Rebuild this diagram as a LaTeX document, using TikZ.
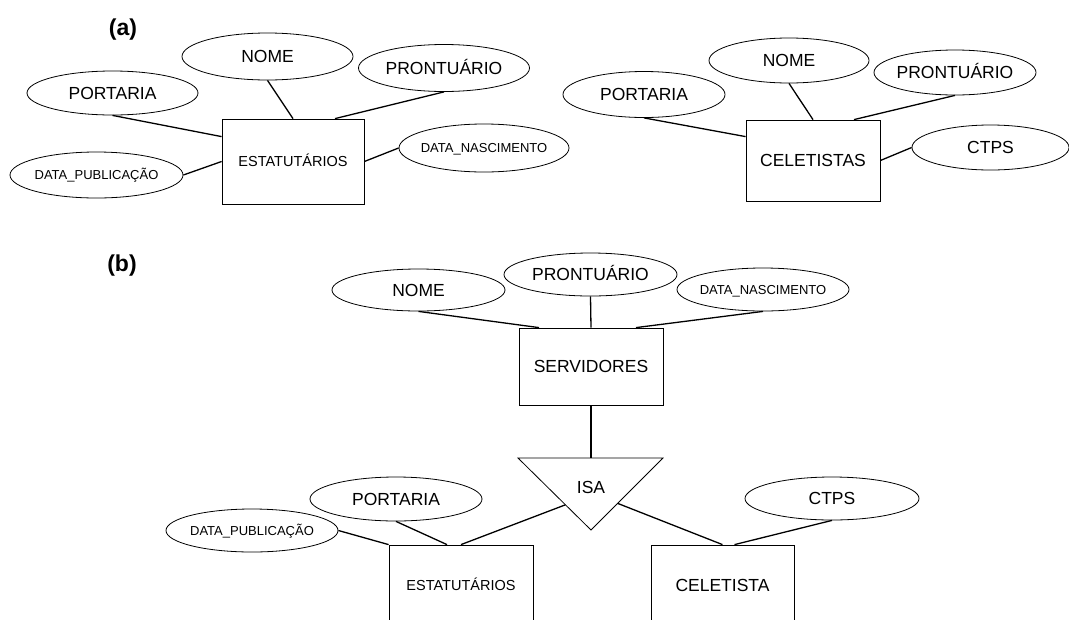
\documentclass[tikz,border=0pt]{standalone}
\usepackage{fontspec}
\setmainfont{Liberation Sans}
\usetikzlibrary{shapes.geometric,calc}
\begin{document}
\begin{tikzpicture}[x=1pt,y=-1pt,
  attr/.style={ellipse,draw,line width=0.8pt,inner sep=0pt},
  ent/.style={rectangle,draw,line width=0.8pt,inner sep=0pt},
  conn/.style={line width=1.3pt},
  big/.style={font=\fontsize{17.5}{20}\selectfont,text height=12.5pt,text depth=0pt},
  small/.style={font=\fontsize{13}{15}\selectfont,text height=9.3pt,text depth=0pt},
  mid/.style={font=\fontsize{14.5}{17}\selectfont,text height=10.4pt,text depth=0pt},
  tag/.style={font=\fontsize{23}{26}\selectfont\bfseries}]
\useasboundingbox (0,0) rectangle (1069,619);
\clip (0,0) rectangle (1069,619);

% ---------- (a) ----------
\node[tag] (ta) at (123,30) {(a)};

\node[attr,big,minimum width=171pt,minimum height=47pt] (anome) at (267.5,56.5) {\makebox[0pt]{NOME}};
\node[attr,big,minimum width=171pt,minimum height=47pt] (apront) at (444,68) {\makebox[0pt]{PRONTUÁRIO}};
\node[attr,big,minimum width=171pt,minimum height=44pt] (aport) at (112.5,93) {\makebox[0pt]{PORTARIA}};
\node[attr,small,minimum width=173pt,minimum height=46pt] (apub) at (96.5,175) {\makebox[0pt]{DATA\_PUBLICAÇÃO}};
\node[ent,mid,minimum width=142pt,minimum height=85pt] (aest) at (293,161.5) {ESTATUTÁRIOS};
\node[attr,small,minimum width=170pt,minimum height=48pt] (anasc) at (484,148) {\makebox[0pt]{DATA\_NASCIMENTO}};

\draw[conn] (aport.south) -- ([yshift=-18pt]aest.north west);
\draw[conn] (anome.south) -- (aest.north);
\draw[conn] (apront.south) -- ([xshift=42pt]aest.north);
\draw[conn] (apub.east) -- (aest.west);
\draw[conn] (aest.east) -- (anasc.west);

\node[attr,big,minimum width=160pt,minimum height=45pt] (bnome) at (789,60.5) {\makebox[0pt]{NOME}};
\node[attr,big,minimum width=162pt,minimum height=45pt] (bpront) at (955,72.5) {\makebox[0pt]{PRONTUÁRIO}};
\node[attr,big,minimum width=162pt,minimum height=46pt] (bport) at (644,94.5) {\makebox[0pt]{PORTARIA}};
\node[ent,big,minimum width=134pt,minimum height=81pt] (bcel) at (813,160.5) {CELETISTAS};
\node[attr,big,minimum width=157pt,minimum height=45pt] (bctps) at (990.5,147.5) {\makebox[0pt]{CTPS}};

\draw[conn] (bport.south) -- ([yshift=-17pt]bcel.north west);
\draw[conn] (bnome.south) -- (bcel.north);
\draw[conn] (bpront.south) -- ([xshift=41pt]bcel.north);
\draw[conn] (bcel.east) -- (bctps.west);

% ---------- (b) ----------
\node[tag] (tb) at (122,265.5) {(b)};

\node[attr,big,minimum width=173pt,minimum height=42pt] (cnome) at (418.5,290) {\makebox[0pt]{NOME}};
\node[attr,big,minimum width=173pt,minimum height=43pt] (cpront) at (590.5,274.5) {\makebox[0pt]{PRONTUÁRIO}};
\node[attr,small,minimum width=172pt,minimum height=43pt] (cnasc) at (763,289.5) {\makebox[0pt]{DATA\_NASCIMENTO}};
\node[ent,big,minimum width=144pt,minimum height=77pt] (cserv) at (591,366.5) {SERVIDORES};

\coordinate (isaL) at (518,458);
\coordinate (isaR) at (663,458);
\coordinate (isaB) at (591,530);
\coordinate (isaT) at (591,458);
\draw[line width=0.8pt,line join=miter] (isaL) -- (isaR) -- (isaB) -- cycle;
\node[big] (isa) at (591,487) {ISA};

\node[attr,big,minimum width=172pt,minimum height=44pt] (cport) at (396,499) {\makebox[0pt]{PORTARIA}};
\node[attr,small,minimum width=172pt,minimum height=43pt] (cpub) at (252,530.5) {\makebox[0pt]{DATA\_PUBLICAÇÃO}};
\node[ent,mid,minimum width=144pt,minimum height=80pt] (cest) at (461,585) {ESTATUTÁRIOS};
\node[ent,big,minimum width=143pt,minimum height=80pt] (ccel) at (722.5,585) {CELETISTA};
\node[attr,big,minimum width=174pt,minimum height=43pt] (cctps) at (832,498.5) {\makebox[0pt]{CTPS}};

\draw[conn] (cnome.south) -- ([xshift=-52pt]cserv.north);
\draw[conn] (cpront.south) -- (cserv.north);
\draw[conn] (cnasc.south) -- ([xshift=45pt]cserv.north);
\draw[conn] (cserv.south) -- (isaT);
\draw[conn] (cpub.east) -- (cest.north west);
\draw[conn] (cport.south) -- ([xshift=-14pt]cest.north);
\draw[conn] ($(isaL)!0.65!(isaB)$) -- (cest.north);
\draw[conn] ($(isaR)!0.63!(isaB)$) -- (ccel.north);
\draw[conn] (cctps.south) -- ([xshift=12pt]ccel.north);
\end{tikzpicture}
\end{document}
